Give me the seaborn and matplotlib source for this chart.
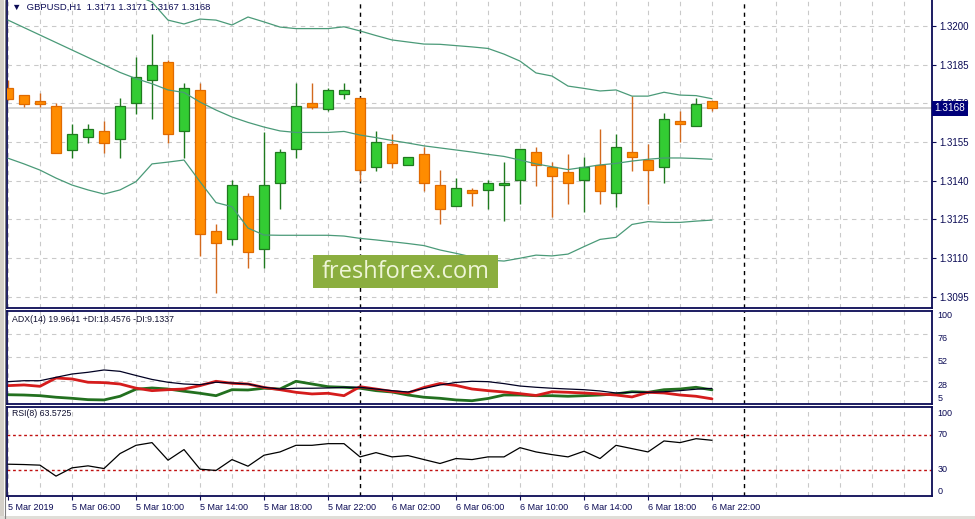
import numpy as np
import pandas as pd
import matplotlib
matplotlib.use("Agg")
import matplotlib.pyplot as plt
import seaborn as sns
from matplotlib.patches import Rectangle
from matplotlib.lines import Line2D
from matplotlib.transforms import blended_transform_factory

# ---------------- data ----------------
times = pd.date_range("2019-03-05 02:00", periods=45, freq="h")

opens = [1.31758, 1.31731, 1.31709, 1.31688, 1.31520, 1.31568, 1.31591, 1.31560, 1.31700, 1.31789,
         1.31859, 1.31591, 1.31751, 1.31203, 1.31172, 1.31339, 1.31134, 1.31390, 1.31522, 1.31700,
         1.31679, 1.31737, 1.31719, 1.31452, 1.31542, 1.31460, 1.31502, 1.31382, 1.31300, 1.31362,
         1.31362, 1.31382, 1.31401, 1.31510, 1.31452, 1.31432, 1.31401, 1.31460, 1.31351, 1.31510,
         1.31479, 1.31452, 1.31630, 1.31611, 1.3171]
highs = [1.31790, 1.31731, 1.31739, 1.31700, 1.31620, 1.31620, 1.31633, 1.31719, 1.31879, 1.31969,
         1.31867, 1.31779, 1.31779, 1.31231, 1.31401, 1.31353, 1.31590, 1.31523, 1.31779, 1.31779,
         1.31758, 1.31779, 1.31726, 1.31591, 1.31581, 1.31491, 1.31531, 1.31440, 1.31409, 1.31370,
         1.31402, 1.31471, 1.31522, 1.31531, 1.31471, 1.31502, 1.31492, 1.31600, 1.31581, 1.31730,
         1.31542, 1.31661, 1.31670, 1.31719, 1.3171]
lows = [1.31714, 1.31687, 1.31687, 1.31508, 1.31489, 1.31547, 1.31508, 1.31489, 1.31659, 1.31638,
        1.31547, 1.31489, 1.31108, 1.30963, 1.31150, 1.31062, 1.31062, 1.31291, 1.31489, 1.31679,
        1.31670, 1.31718, 1.31399, 1.31439, 1.31450, 1.31460, 1.31361, 1.31231, 1.31300, 1.31300,
        1.31291, 1.31242, 1.31311, 1.31380, 1.31260, 1.31311, 1.31279, 1.31311, 1.31299, 1.31439,
        1.31311, 1.31390, 1.31549, 1.31611, 1.3167]
closes = [1.31717, 1.31699, 1.31699, 1.31508, 1.31580, 1.31599, 1.31547, 1.31688, 1.31801, 1.31848,
          1.31580, 1.31758, 1.31192, 1.31159, 1.31382, 1.31122, 1.31382, 1.31510, 1.31688, 1.31687,
          1.31751, 1.31751, 1.31440, 1.31549, 1.31470, 1.31491, 1.31390, 1.31291, 1.31370, 1.31351,
          1.31390, 1.31390, 1.31522, 1.31461, 1.31419, 1.31390, 1.31452, 1.31361, 1.31529, 1.31491,
          1.31440, 1.31638, 1.31619, 1.31699, 1.3168]

bb_upper = [1.32198, 1.32198, 1.32194, 1.32186, 1.32186, 1.32178, 1.32171, 1.32147, 1.32120, 1.32093,
            1.32023, 1.32008, 1.32027, 1.32023, 1.32004, 1.32035, 1.32016, 1.31996, 1.31990, 1.31990,
            1.31990, 1.31997, 1.31981, 1.31963, 1.31946, 1.31938, 1.31930, 1.31929, 1.31924, 1.31919,
            1.31913, 1.31891, 1.31864, 1.31818, 1.31806, 1.31767, 1.31758, 1.31748, 1.31752, 1.31728,
            1.31728, 1.31743, 1.31732, 1.31730, 1.31718]
bb_middle = [1.32023, 1.31994, 1.31965, 1.31936, 1.31907, 1.31878, 1.31849, 1.31820, 1.31796, 1.31776,
             1.31752, 1.31742, 1.31705, 1.31674, 1.31647, 1.31626, 1.31608, 1.31593, 1.31587, 1.31587,
             1.31587, 1.31591, 1.31577, 1.31567, 1.31556, 1.31546, 1.31535, 1.31527, 1.31519, 1.31511,
             1.31502, 1.31494, 1.31480, 1.31465, 1.31454, 1.31443, 1.31452, 1.31461, 1.31467, 1.31476,
             1.31483, 1.31488, 1.31488, 1.31486, 1.31483]
bb_lower = [1.31487, 1.31465, 1.31441, 1.31410, 1.31383, 1.31364, 1.31348, 1.31364, 1.31396, 1.31465,
            1.31472, 1.31480, 1.31396, 1.31315, 1.31299, 1.31216, 1.31189, 1.31188, 1.31188, 1.31188,
            1.31188, 1.31185, 1.31176, 1.31170, 1.31163, 1.31156, 1.31148, 1.31131, 1.31118, 1.31104,
            1.31092, 1.31088, 1.31099, 1.31111, 1.31108, 1.31115, 1.31144, 1.31172, 1.31180, 1.31230,
            1.31241, 1.31238, 1.31238, 1.31243, 1.31247]

adx = [26.9, 27.9, 27.9, 31.4, 34.8, 36.6, 39.0, 37.6, 33.3, 29.2,
       26.3, 24.5, 23.8, 26.3, 25.5, 24.5, 21.1, 19.3, 20.1, 20.1,
       20.4, 21.1, 21.1, 19.3, 17.6, 16.2, 19.9, 23.5, 26.1, 27.3,
       26.9, 24.9, 22.4, 21.1, 20.1, 19.3, 18.6, 17.3, 15.2, 15.9,
       15.9, 16.5, 17.6, 19.1, 19.9641]
plus_di = [13.4, 13.1, 12.4, 10.8, 9.7, 8.3, 8.0, 11.8, 19.1, 20.4,
           19.3, 17.0, 14.9, 12.4, 18.6, 18.3, 20.1, 19.3, 27.3, 24.5,
           21.7, 21.1, 20.1, 17.6, 16.2, 13.1, 10.8, 9.7, 8.0, 7.2,
           9.5, 13.1, 13.1, 12.4, 12.4, 11.8, 12.4, 13.1, 14.2, 16.5,
           15.9, 18.6, 19.3, 21.1, 18.4576]
minus_di = [22.8, 23.5, 22.1, 30.7, 29.7, 26.3, 25.9, 24.5, 20.2, 17.6,
            18.6, 19.3, 22.8, 27.3, 25.2, 24.5, 20.9, 18.6, 15.9, 14.2,
            14.9, 12.4, 21.7, 19.3, 16.8, 15.2, 20.9, 25.0, 23.0, 19.3,
            17.6, 16.2, 14.5, 12.6, 16.5, 15.9, 15.2, 14.2, 13.1, 11.1,
            15.9, 15.2, 13.1, 11.8, 9.1337]
rsi = [36.1, 35.7, 35.0, 22.4, 31.9, 34.2, 31.1, 48.3, 57.8, 60.9,
       40.7, 52.9, 30.4, 28.9, 41.4, 33.8, 46.4, 50.2, 57.8, 57.8,
       59.7, 59.7, 44.5, 49.4, 44.5, 46.0, 41.4, 36.9, 42.6, 41.4,
       44.5, 44.5, 55.1, 50.2, 47.1, 44.5, 51.0, 42.6, 57.8, 54.0,
       50.2, 62.8, 60.9, 65.4, 63.5725]

price_ticks = [1.3095, 1.3110, 1.3125, 1.3140, 1.3155, 1.3170, 1.3185, 1.3200]
adx_ticks = [100, 76, 52, 28, 5]
rsi_ticks = [100, 70, 30, 0]
rsi_levels = [70, 30]
day_starts = [pd.Timestamp("2019-03-06 00:00"), pd.Timestamp("2019-03-07 00:00")]

# ---------------- setup ----------------
sns.set_style("white")
plt.rcParams["font.family"] = ["Liberation Sans", "DejaVu Sans"]

W, H = 975, 519
fig = plt.figure(figsize=(W / 100, H / 100), dpi=100)
fig.patch.set_facecolor("white")


def rect(l, t, r, b):
    return [l / W, 1 - b / H, (r - l) / W, (b - t) / H]


ax1 = fig.add_axes(rect(7, 0, 932, 307.7))
ax2 = fig.add_axes(rect(7, 311, 932, 404))
ax3 = fig.add_axes(rect(7, 406.5, 932, 495.7))

hours = ((times - times[0]) / pd.Timedelta(hours=1)).to_numpy()
sep_pos = [(d - times[0]) / pd.Timedelta(hours=1) for d in day_starts]

df = pd.DataFrame({
    "x": hours, "open": opens, "high": highs, "low": lows, "close": closes,
    "bb_upper": bb_upper, "bb_middle": bb_middle, "bb_lower": bb_lower,
    "adx": adx, "plus_di": plus_di, "minus_di": minus_di, "rsi": rsi,
})

NAVY = "#0b0b55"
GRID = "#c9c9c9"
XMIN, XMAX = -0.0625, 57.75

for ax in (ax1, ax2, ax3):
    ax.set_xlim(XMIN, XMAX)
    ax.set_facecolor("white")
    for s in ax.spines.values():
        s.set_color(NAVY)
        s.set_linewidth(1.3)
    for gx in np.arange(0, 58, 2):
        if gx in sep_pos:
            continue
        ax.axvline(gx, color=GRID, lw=0.8, ls=(0, (4, 4)), zorder=0.5)
    for sp in sep_pos:
        ax.axvline(sp, color="black", lw=1.0, ls=(0, (3, 3)), zorder=1)
ax1.spines["top"].set_visible(False)

# ---------------- main chart ----------------
ax1.set_ylim(1.30907, 1.32101)
for p in price_ticks:
    ax1.axhline(p, color=GRID, lw=0.8, ls=(0, (4, 4)), zorder=0.5)
ax1.axhline(closes[-1], color="#c8c8c8", lw=1.1, zorder=0.6)

o = df["open"].to_numpy(); c = df["close"].to_numpy()
up = c >= o
wick_col = np.where(up, "#1f7a1f", "#d2691e")
body_col = np.where(up, "#33cc33", "#ff8c00")
edge_col = np.where(up, "#1f7a1f", "#e06a00")
ax1.vlines(df["x"], df["low"], df["high"], colors=wick_col, lw=1.0, zorder=2)
ax1.bar(df["x"], np.abs(c - o), bottom=np.minimum(o, c), width=0.66,
        color=body_col, edgecolor=edge_col, linewidth=0.9, zorder=3)

for col in ("bb_upper", "bb_middle", "bb_lower"):
    sns.lineplot(data=df, x="x", y=col, ax=ax1, color="#4a9a78", linewidth=0.9,
                 legend=False, zorder=4)

ax1.yaxis.tick_right()
ax1.set_yticks(price_ticks)
ax1.set_yticklabels([f"{p:.4f}" for p in price_ticks])
ax1.tick_params(axis="y", direction="out", length=3, width=0.8, color=NAVY,
                labelsize=7, labelcolor=NAVY, pad=2)
ax1.set_xticks([])
ax1.set_xlabel(""); ax1.set_ylabel("")

trans = blended_transform_factory(ax1.transAxes, ax1.transData)
ax1.text(1.0025, closes[-1], f"{closes[-1]:.4f}", transform=trans, ha="left", va="center",
         color="white", fontsize=7.2, zorder=10,
         bbox=dict(boxstyle="square,pad=0.28", fc="#00007a", ec="none"))

fig.text(12 / W, 1 - 7.5 / H,
         f"\u25bc  GBPUSD,H1  {opens[-1]:.4f} {highs[-1]:.4f} {lows[-1]:.4f} {closes[-1]:.4f}",
         fontsize=6.8, color=NAVY, va="center", ha="left",
         family=["Liberation Sans", "DejaVu Sans"])

# watermark
fig.patches.append(Rectangle((313 / W, 1 - 288 / H), (498 - 313) / W, 33 / H,
                             transform=fig.transFigure, facecolor="#8bae3f",
                             edgecolor="none", zorder=5))
fig.text(406 / W, 1 - 272 / H, "freshforex.com", fontsize=17, color="#eef5d6",
         ha="center", va="center", family=["Open Sans", "DejaVu Sans"], zorder=6)

# ---------------- ADX ----------------
ax2.set_ylim(3.8, 100)
for lv in (76, 52, 28):
    ax2.axhline(lv, color=GRID, lw=0.8, ls=(0, (4, 4)), zorder=0.5)
sns.lineplot(data=df, x="x", y="adx", ax=ax2, color="#000022", linewidth=0.9, legend=False, zorder=3)
sns.lineplot(data=df, x="x", y="plus_di", ax=ax2, color="#22701f", linewidth=2.0, legend=False, zorder=2)
sns.lineplot(data=df, x="x", y="minus_di", ax=ax2, color="#d51c1c", linewidth=2.0, legend=False, zorder=2.5)
ax2.yaxis.tick_right()
ax2.set_yticks(adx_ticks)
ax2.set_yticklabels([str(t) for t in adx_ticks])
ax2.tick_params(axis="y", length=0, labelsize=6.5, labelcolor=NAVY, pad=4)
for lab, t in zip(ax2.get_yticklabels(), adx_ticks):
    lab.set_va("bottom" if t == adx_ticks[-1] else "top")
ax2.set_xticks([])
ax2.set_xlabel(""); ax2.set_ylabel("")
fig.text(12 / W, 1 - 320 / H,
         f"ADX(14) {adx[-1]:.4f} +DI:{plus_di[-1]:.4f} -DI:{minus_di[-1]:.4f}",
         fontsize=6.3, color="#101030", va="center", ha="left")

# ---------------- RSI ----------------
ax3.set_ylim(-0.1, 102.4)
for lv in rsi_levels:
    ax3.axhline(lv, color="#c01010", lw=1.0, ls=(0, (2, 2)), zorder=0.7)
sns.lineplot(data=df, x="x", y="rsi", ax=ax3, color="#000000", linewidth=0.9, legend=False, zorder=3)
ax3.yaxis.tick_right()
ax3.set_yticks(rsi_ticks)
ax3.set_yticklabels([str(t) for t in rsi_ticks])
ax3.tick_params(axis="y", length=0, labelsize=6.5, labelcolor=NAVY, pad=4)
for lab, t in zip(ax3.get_yticklabels(), rsi_ticks):
    if t == 100:
        lab.set_va("top")
    elif t == 0:
        lab.set_va("bottom")
    else:
        lab.set_va("center")
fig.text(12 / W, 1 - 413 / H, f"RSI(8) {rsi[-1]:.4f}", fontsize=6.3, color="#101030",
         va="center", ha="left")

tick_idx = list(range(0, len(times), 4))
tick_labels = []
for i in tick_idx:
    t = times[i]
    if i == 0:
        tick_labels.append(f"{t.day} {t.strftime('%b %Y')}")
    else:
        tick_labels.append(f"{t.day} {t.strftime('%b %H:%M')}")
ax3.set_xticks(hours[tick_idx])
ax3.set_xticklabels(tick_labels)
for lab in ax3.get_xticklabels():
    lab.set_ha("left")
ax3.tick_params(axis="x", direction="out", length=3, width=0.8, color=NAVY,
                labelsize=6.5, labelcolor=NAVY, pad=2, bottom=True)
ax3.set_xlabel(""); ax3.set_ylabel("")

# window frame bits
fig.patches.append(Rectangle((0, 0), 4 / W, 1, transform=fig.transFigure,
                             facecolor="#d4d0c8", edgecolor="none", zorder=0.1))
fig.lines.append(Line2D([4.5 / W, 4.5 / W], [0, 1], transform=fig.transFigure,
                        color="#808080", lw=0.8))
fig.patches.append(Rectangle((0, 0), 1, 3 / H, transform=fig.transFigure,
                             facecolor="#e0ded8", edgecolor="none", zorder=0.1))

fig.savefig("out.png", dpi=100)
